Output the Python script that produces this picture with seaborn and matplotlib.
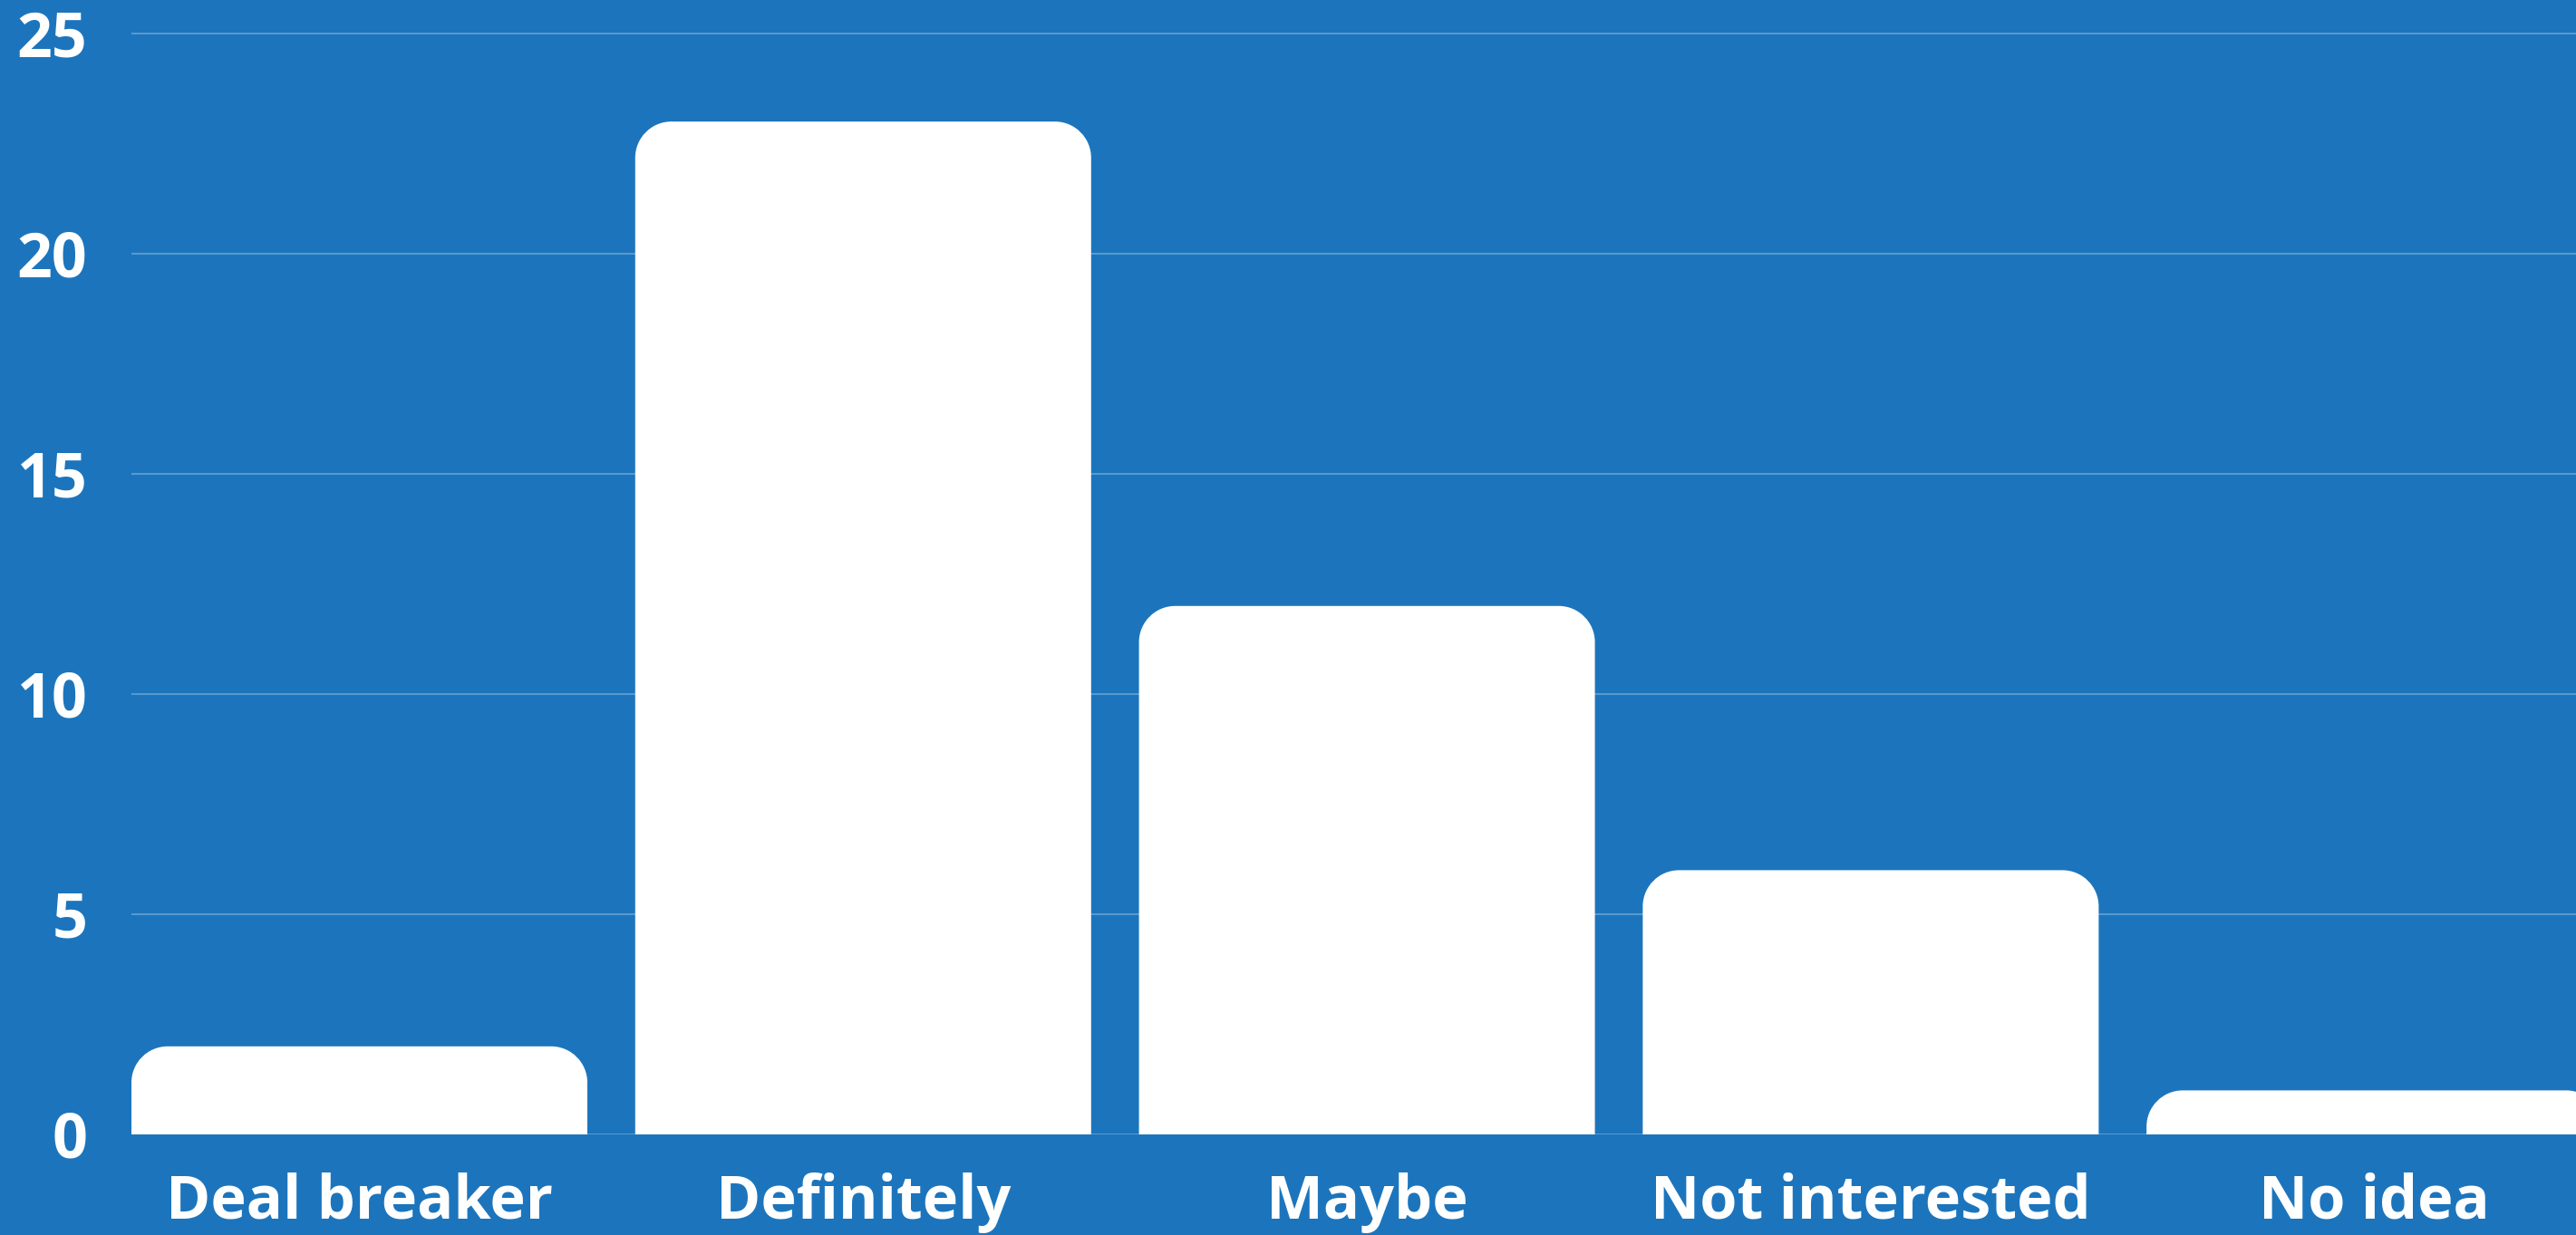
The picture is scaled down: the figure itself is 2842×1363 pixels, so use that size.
import matplotlib
matplotlib.use("Agg")
import matplotlib.pyplot as plt
from matplotlib.path import Path
from matplotlib.patches import PathPatch
import seaborn as sns
import pandas as pd

categories = ["Deal breaker", "Definitely", "Maybe", "Not interested", "No idea"]
values = [2, 23, 12, 6, 1]
yticks = [0, 5, 10, 15, 20, 25]

BG = "#1C75BC"
GRID = "#5F9DD2"

sns.set_theme(style="white")
plt.rcParams["font.family"] = ["Open Sans", "DejaVu Sans"]

W, H = 2842, 1363
fig = plt.figure(figsize=(W / 100, H / 100), dpi=100, facecolor=BG)
ax = fig.add_axes([145 / W, 111 / H, 1 - 145 / W, 1 - 111 / H])
ax.set_facecolor(BG)

df = pd.DataFrame({"category": categories, "value": values})
sns.barplot(data=df, x="category", y="value", color="white", width=0.905,
            saturation=1, ax=ax, zorder=3)

ax.set_xlim(-0.4525, 4.40)
ax.set_ylim(0, 25.76)
ax.set_yticks(yticks)
ax.yaxis.grid(True, color=GRID, linewidth=1.3, zorder=0)
ax.set_axisbelow(True)
for s in ax.spines.values():
    s.set_visible(False)
ax.set_xlabel("")
ax.set_ylabel("")
ax.tick_params(axis="both", length=0, colors="white")
ax.tick_params(axis="y", pad=35)
ax.tick_params(axis="x", pad=30)
for lab in ax.get_yticklabels():
    lab.set_fontsize(49)
    lab.set_fontweight("bold")
    lab.set_color("white")
for lab in ax.get_xticklabels():
    lab.set_fontsize(48)
    lab.set_fontweight("bold")
    lab.set_color("white")

# rounded top corners
fig.canvas.draw()
p0 = ax.transData.transform((0, 0))
p1 = ax.transData.transform((1, 1))
ppx = p1[0] - p0[0]
ppy = p1[1] - p0[1]
rpx = 40
rx, ry = rpx / ppx, rpx / ppy
k = 0.5523
for patch in list(ax.patches):
    x0, y0 = patch.get_x(), patch.get_y()
    x1, y1 = x0 + patch.get_width(), y0 + patch.get_height()
    verts = [(x0, y0), (x0, y1 - ry),
             (x0, y1 - ry + k * ry), (x0 + rx - k * rx, y1), (x0 + rx, y1),
             (x1 - rx, y1),
             (x1 - rx + k * rx, y1), (x1, y1 - ry + k * ry), (x1, y1 - ry),
             (x1, y0), (x0, y0)]
    codes = [Path.MOVETO, Path.LINETO,
             Path.CURVE4, Path.CURVE4, Path.CURVE4,
             Path.LINETO,
             Path.CURVE4, Path.CURVE4, Path.CURVE4,
             Path.LINETO, Path.CLOSEPOLY]
    pp = PathPatch(Path(verts, codes), facecolor="white", edgecolor="none", zorder=3)
    ax.add_patch(pp)
    patch.remove()

fig.savefig("out.png", dpi=100, facecolor=BG)
